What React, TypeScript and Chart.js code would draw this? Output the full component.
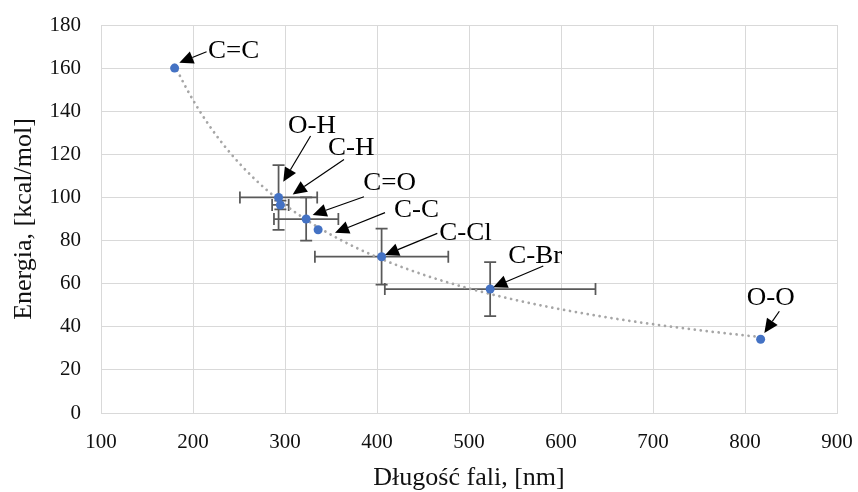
import React, { useEffect, useRef } from "react";
import { Chart, registerables } from "chart.js";

Chart.register(...registerables);

// ---- data ----
const bonds = ["C=C", "O-H", "C-H", "C=O", "C-C", "C-Cl", "C-Br", "O-O"];
const wavelengths = [180, 293, 295, 323, 336, 405, 523, 817];
const energies = [160, 100, 96.5, 90, 85, 72.5, 57.5, 34.2];
const wavelengthErr = [0, 42, 9, 35, 0, 72.5, 114.5, 0];
const energyErr = [0, 15, 2, 10, 0, 13, 12.5, 0];

const xMin = 100;
const xMax = 900;
const xStep = 100;
const yMin = 0;
const yMax = 180;
const yStep = 20;

const xTitle = "Długość fali, [nm]";
const yTitle = "Energia, [kcal/mol]";

// ---- label callout layout (pixel offsets from each point: text, arrow tail, arrow tip) ----
const calloutLayout = [
  { tx: 33.4, ty: -10, ax: 32, ay: -16.4, hx: 4.7, hy: -5.4 },
  { tx: 9.4, ty: -64.4, ax: 32, ay: -61.4, hx: 4.7, hy: -15.7 },
  { tx: 47.6, ty: -49.9, ax: 63.6, ay: -45.6, hx: 12.3, hy: -10.6 },
  { tx: 57.1, ty: -29, ax: 57.8, ay: -22.3, hx: 6.5, hy: -4 },
  { tx: 75.9, ty: -13.1, ax: 66.9, ay: -17.1, hx: 16.9, hy: 2.9 },
  { tx: 57.7, ty: -16.7, ax: 55.7, ay: -23.4, hx: 3.4, hy: -1.7 },
  { tx: 18.1, ty: -25.8, ax: 53.1, ay: -23.1, hx: 3.1, hy: -1.8 },
  { tx: -13.9, ty: -34.7, ax: 18.7, ay: -28, hx: 3.7, hy: -6.4 },
];

const FONT = '"Liberation Serif", "Times New Roman", serif';
const POINT_COLOR = "#4472C4";
const ERR_COLOR = "#595959";
const TREND_COLOR = "#a6a6a6";
const GRID_COLOR = "#d9d9d9";
const TEXT_COLOR = "#111111";

// power-law trendline (least squares in log-log space), as a spreadsheet trendline would
function powerFit(xs: number[], ys: number[]) {
  const lx = xs.map((v) => Math.log(v));
  const ly = ys.map((v) => Math.log(v));
  const n = xs.length;
  const mx = lx.reduce((a, b) => a + b, 0) / n;
  const my = ly.reduce((a, b) => a + b, 0) / n;
  let sxy = 0;
  let sxx = 0;
  for (let i = 0; i < n; i++) {
    sxy += (lx[i] - mx) * (ly[i] - my);
    sxx += (lx[i] - mx) * (lx[i] - mx);
  }
  const b = sxy / sxx;
  const a = Math.exp(my - b * mx);
  return { a, b };
}

const errorBarPlugin = {
  id: "errorBars",
  beforeDatasetsDraw(chart: any) {
    const { ctx, scales } = chart;
    const xs = scales.x;
    const ys = scales.y;
    const cap = 6;
    ctx.save();
    ctx.strokeStyle = ERR_COLOR;
    ctx.lineWidth = 1.75;
    for (let i = 0; i < wavelengths.length; i++) {
      const px = xs.getPixelForValue(wavelengths[i]);
      const py = ys.getPixelForValue(energies[i]);
      if (wavelengthErr[i] > 0) {
        const l = xs.getPixelForValue(wavelengths[i] - wavelengthErr[i]);
        const r = xs.getPixelForValue(wavelengths[i] + wavelengthErr[i]);
        ctx.beginPath();
        ctx.moveTo(l, py);
        ctx.lineTo(r, py);
        ctx.moveTo(l, py - cap);
        ctx.lineTo(l, py + cap);
        ctx.moveTo(r, py - cap);
        ctx.lineTo(r, py + cap);
        ctx.stroke();
      }
      if (energyErr[i] > 0) {
        const t = ys.getPixelForValue(energies[i] + energyErr[i]);
        const b = ys.getPixelForValue(energies[i] - energyErr[i]);
        ctx.beginPath();
        ctx.moveTo(px, t);
        ctx.lineTo(px, b);
        ctx.moveTo(px - cap, t);
        ctx.lineTo(px + cap, t);
        ctx.moveTo(px - cap, b);
        ctx.lineTo(px + cap, b);
        ctx.stroke();
      }
    }
    ctx.restore();
  },
};

const calloutPlugin = {
  id: "callouts",
  afterDatasetsDraw(chart: any) {
    const { ctx, scales } = chart;
    const xs = scales.x;
    const ys = scales.y;
    ctx.save();
    for (let i = 0; i < bonds.length; i++) {
      const L = calloutLayout[i];
      const px = xs.getPixelForValue(wavelengths[i]);
      const py = ys.getPixelForValue(energies[i]);
      const tailX = px + L.ax;
      const tailY = py + L.ay;
      const tipX = px + L.hx;
      const tipY = py + L.hy;
      const dx = tipX - tailX;
      const dy = tipY - tailY;
      const len = Math.hypot(dx, dy);
      const ux = dx / len;
      const uy = dy / len;
      const headLen = 14;
      const headHalf = 6.5;
      const baseX = tipX - ux * headLen;
      const baseY = tipY - uy * headLen;
      ctx.strokeStyle = "#000";
      ctx.lineWidth = 1.2;
      ctx.beginPath();
      ctx.moveTo(tailX, tailY);
      ctx.lineTo(baseX, baseY);
      ctx.stroke();
      ctx.fillStyle = "#000";
      ctx.beginPath();
      ctx.moveTo(tipX, tipY);
      ctx.lineTo(baseX - uy * headHalf, baseY + ux * headHalf);
      ctx.lineTo(baseX + uy * headHalf, baseY - ux * headHalf);
      ctx.closePath();
      ctx.fill();

      ctx.save();
      ctx.translate(px + L.tx, py + L.ty);
      ctx.scale(1.08, 1);
      ctx.font = `25px ${FONT}`;
      ctx.textAlign = "left";
      ctx.textBaseline = "alphabetic";
      ctx.fillStyle = "#000";
      ctx.fillText(bonds[i], 0, 0);
      ctx.restore();
    }
    ctx.restore();
  },
};

function clearPadding(scale: any) {
  scale.paddingTop = 0;
  scale.paddingBottom = 0;
  scale.paddingLeft = 0;
  scale.paddingRight = 0;
}

export default function App() {
  const canvasRef = useRef<HTMLCanvasElement | null>(null);

  useEffect(() => {
    const canvas = canvasRef.current;
    if (!canvas) return;

    const fit = powerFit(wavelengths, energies);
    const lo = Math.min(...wavelengths);
    const hi = Math.max(...wavelengths);
    const trend: { x: number; y: number }[] = [];
    const steps = 150;
    for (let k = 0; k <= steps; k++) {
      const x = lo + ((hi - lo) * k) / steps;
      trend.push({ x, y: fit.a * Math.pow(x, fit.b) });
    }

    const chart = new Chart(canvas, {
      type: "scatter",
      data: {
        datasets: [
          {
            label: "Energia",
            data: wavelengths.map((x, i) => ({ x, y: energies[i] })),
            backgroundColor: POINT_COLOR,
            borderColor: POINT_COLOR,
            pointRadius: 4.5,
            pointBorderWidth: 0,
            showLine: false,
          },
          {
            label: "Trend",
            data: trend,
            showLine: true,
            pointRadius: 0,
            borderColor: TREND_COLOR,
            borderWidth: 2.75,
            borderDash: [0.01, 6],
            borderCapStyle: "round",
            fill: false,
            tension: 0,
          },
        ],
      },
      options: {
        responsive: false,
        devicePixelRatio: 1,
        animation: false,
        layout: { padding: { top: 25, right: 21, left: 0, bottom: 0 } },
        plugins: {
          legend: { display: false },
          tooltip: { enabled: false },
        },
        scales: {
          x: {
            type: "linear",
            min: xMin,
            max: xMax,
            ticks: {
              stepSize: xStep,
              font: { family: FONT, size: 21 },
              color: TEXT_COLOR,
              padding: 17,
              maxRotation: 0,
            },
            grid: { color: GRID_COLOR, drawTicks: false, lineWidth: 1 },
            border: { color: GRID_COLOR },
            title: {
              display: true,
              text: xTitle,
              font: { family: FONT, size: 26, lineHeight: 1.1 },
              color: TEXT_COLOR,
              padding: { top: 0, bottom: 0 },
            },
            afterFit(scale: any) {
              scale.height = 79;
              clearPadding(scale);
            },
          },
          y: {
            type: "linear",
            min: yMin,
            max: yMax,
            ticks: {
              stepSize: yStep,
              font: { family: FONT, size: 21 },
              color: TEXT_COLOR,
              padding: 20,
            },
            grid: { color: GRID_COLOR, drawTicks: false, lineWidth: 1 },
            border: { color: GRID_COLOR },
            title: {
              display: true,
              text: yTitle,
              font: { family: FONT, size: 26 },
              color: TEXT_COLOR,
              padding: { top: 9, bottom: 0 },
            },
            afterFit(scale: any) {
              scale.width = 101;
              clearPadding(scale);
            },
          },
        },
      },
      plugins: [errorBarPlugin, calloutPlugin],
    } as any);

    return () => {
      chart.destroy();
    };
  }, []);

  return (
    <div style={{ position: "absolute", left: 0, top: 0, width: 858, height: 492, background: "#fff" }}>
      <canvas ref={canvasRef} width={858} height={492} style={{ display: "block", width: 858, height: 492 }} />
    </div>
  );
}
